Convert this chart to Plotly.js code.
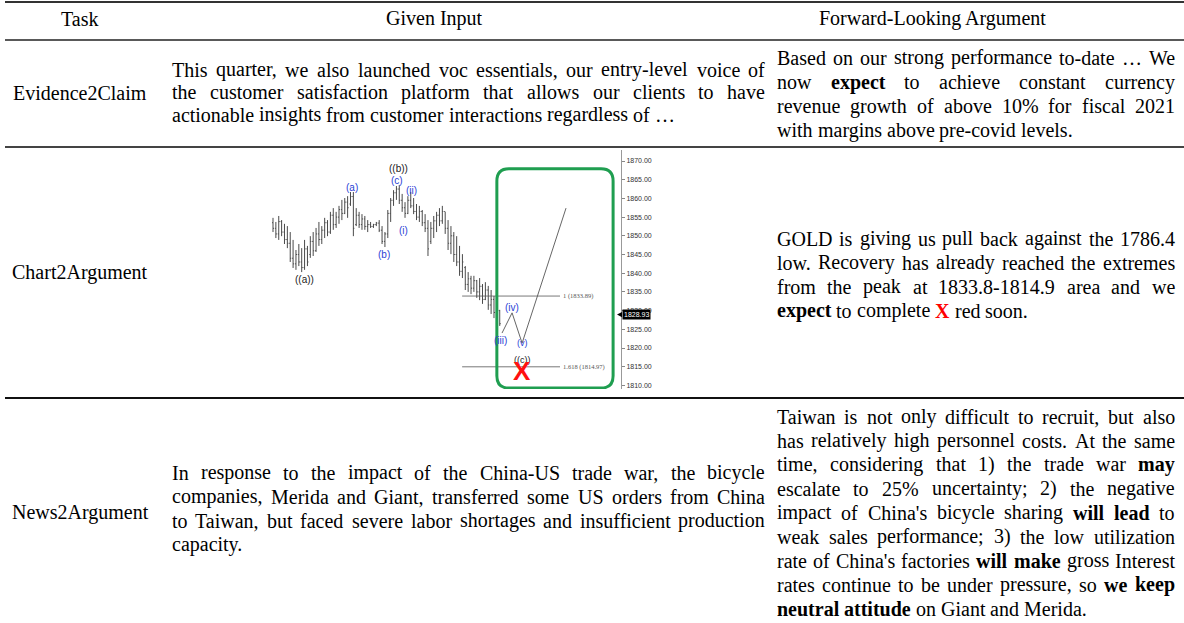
<!DOCTYPE html>
<html><head><meta charset="utf-8">
<script src="https://cdn.plot.ly/plotly-3.0.1.min.js"></script>
<style>html,body{margin:0;padding:0;background:#fff;overflow:hidden}#chart{width:1184px;height:623px}</style>
</head><body><div id="chart"></div>
<script>
// ---------- table text ----------
const headers = ["Task", "Given Input", "Forward-Looking Argument"];
const tasks = ["Evidence2Claim", "Chart2Argument", "News2Argument"];
const input1 = [
  "This quarter, we also launched voc essentials, our entry-level voice of",
  "the customer satisfaction platform that allows our clients to have",
  "actionable insights from customer interactions regardless of …"
];
const argument1 = [
  "Based on our strong performance to-date … We",
  "now **expect** to achieve constant currency",
  "revenue growth of above 10% for fiscal 2021",
  "with margins above pre-covid levels."
];
const argument2 = [
  "GOLD is giving us pull back against the 1786.4",
  "low. Recovery has already reached the extremes",
  "from the peak at 1833.8-1814.9 area and we",
  "**expect** to complete !!X!! red soon."
];
const input3 = [
  "In response to the impact of the China-US trade war, the bicycle",
  "companies, Merida and Giant, transferred some US orders from China",
  "to Taiwan, but faced severe labor shortages and insufficient production",
  "capacity."
];
const argument3 = [
  "Taiwan is not only difficult to recruit, but also",
  "has relatively high personnel costs. At the same",
  "time, considering that 1) the trade war **may**",
  "escalate to 25% uncertainty; 2) the negative",
  "impact of China's bicycle sharing **will** **lead** to",
  "weak sales performance; 3) the low utilization",
  "rate of China's factories **will** **make** gross Interest",
  "rates continue to be under pressure, so **we** **keep**",
  "**neutral** **attitude** on Giant and Merida."
];

// ---------- gold chart data (bar index, prices) ----------
const barHigh = [1854.8,1853.7,1855.3,1854.2,1853.2,1852.6,1851.0,1848.9,1846.2,1847.8,
  1846.7,1848.9,1847.3,1849.9,1851.0,1852.1,1853.7,1852.6,1854.8,1854.2,
  1856.4,1857.4,1856.4,1858.0,1859.6,1860.1,1860.6,1861.7,1861.7,1857.4,
  1856.4,1855.8,1855.3,1854.2,1853.7,1853.2,1853.7,1854.2,1852.6,1851.0,
  1856.9,1860.1,1862.2,1863.3,1863.6,1861.2,1859.0,1860.6,1861.7,1860.1,
  1858.5,1858.0,1856.9,1855.8,1854.2,1853.7,1855.3,1856.4,1857.4,1858.0,
  1856.4,1854.2,1852.6,1851.0,1849.9,1847.3,1845.1,1841.9,1840.3,1839.3,
  1839.3,1838.2,1838.7,1837.1,1837.6,1836.6,1835.5,1833.9,1832.3,1830.2];
const barLow = [1851.0,1849.4,1848.9,1849.9,1847.8,1846.7,1843.0,1841.4,1840.9,1841.9,
  1840.3,1840.9,1841.9,1844.1,1844.6,1845.7,1847.3,1847.8,1849.4,1849.9,
  1850.5,1851.6,1852.1,1853.2,1854.2,1855.8,1854.8,1858.0,1849.9,1852.6,
  1852.1,1851.6,1851.6,1851.0,1852.1,1852.1,1852.6,1851.0,1847.8,1847.0,
  1849.4,1853.7,1858.0,1859.6,1858.5,1856.4,1854.8,1855.8,1857.4,1855.8,
  1854.2,1853.7,1852.6,1851.0,1844.6,1847.8,1849.4,1851.0,1852.6,1853.2,
  1850.5,1846.2,1845.1,1843.0,1841.9,1839.3,1838.7,1835.5,1835.0,1834.4,
  1835.0,1833.4,1832.8,1831.8,1832.8,1830.2,1829.1,1828.0,1827.0,1825.9];
const barOpen = [1853.5,1852.0,1850.5,1853.8,1851.0,1849.0,1848.0,1844.0,1842.5,1845.0,
  1843.0,1841.5,1846.5,1845.0,1848.5,1846.0,1850.5,1849.0,1851.5,1853.5,
  1851.0,1855.5,1853.0,1855.0,1857.0,1856.0,1859.0,1858.5,1860.5,1853.0,
  1855.5,1853.0,1854.5,1852.5,1853.0,1852.5,1853.0,1853.4,1851.5,1848.5,
  1850.5,1856.0,1859.5,1861.5,1862.5,1859.5,1857.5,1856.0,1859.5,1858.0,
  1856.5,1855.0,1856.5,1853.5,1852.0,1848.5,1852.0,1854.0,1855.5,1854.0,
  1856.5,1852.0,1848.0,1850.0,1845.0,1843.0,1840.5,1841.5,1837.0,1838.5,
  1836.0,1838.0,1835.0,1836.5,1833.0,1835.5,1831.5,1833.0,1829.5,1830.0];
const barClose = [1852.0,1850.5,1853.8,1851.0,1849.0,1848.0,1844.0,1842.5,1845.0,1843.0,
  1841.5,1846.5,1843.0,1848.5,1846.0,1850.5,1849.0,1851.5,1853.5,1851.0,
  1855.5,1853.0,1855.0,1857.0,1856.0,1859.0,1857.5,1860.5,1852.0,1855.5,
  1853.0,1854.5,1852.5,1853.0,1852.5,1853.0,1853.4,1851.5,1848.5,1850.5,
  1856.0,1859.5,1861.5,1862.5,1859.5,1857.5,1856.0,1859.5,1858.0,1856.5,
  1855.0,1856.5,1853.5,1852.0,1846.5,1852.0,1854.0,1855.5,1854.0,1856.5,
  1852.0,1848.0,1850.0,1845.0,1843.0,1840.5,1843.0,1837.0,1838.5,1836.0,
  1838.0,1835.0,1836.5,1833.0,1835.5,1831.5,1833.0,1829.5,1830.0,1826.5];
const projX = [79.8, 83.3, 86.8, 102.1];
const projY = [1824.0, 1829.4, 1821.3, 1857.4];
const fibLevels = [1833.89, 1814.97];
const fibLabels = ["1 (1833.89)", "1.618 (1814.97)"];
const fibX = [65.9, 100.0];
const lastPrice = 1828.93;
const waveLabels = ["((a))", "(a)", "((b))", "(c)", "(ii)", "(i)", "(b)", "(iv)", "(iii)", "(v)", "((c))"];
const waveX = [10.8, 27.5, 43.6, 43.2, 48.1, 45.6, 38.7, 83.3, 79.4, 86.8, 86.8];
const waveY = [1838.2, 1863.0, 1868.0, 1864.9, 1862.0, 1851.3, 1845.1, 1830.7, 1821.9, 1821.3, 1816.9];
const waveBlack = [true, false, true, false, false, false, false, false, false, false, true];
const targetX = 86.8, targetY = 1813.9;
const boxX = [78.0, 118.5], boxY = [1809.3, 1867.9];

// ---------- layout helpers ----------
const W = 1184, H = 623;
const FS = 20;
const FONT = 'Liberation Serif';
const px = v => v / W, py = v => 1 - v / H;
const ctx = document.createElement('canvas').getContext('2d');
function measure(t, bold) { ctx.font = (bold ? 'bold ' : '') + FS + 'px "' + FONT + '"'; return ctx.measureText(t).width; }
function parseWord(tok) {
  let t = tok, bold = false, red = false;
  if (t.startsWith('!!') && t.endsWith('!!')) { t = t.slice(2, -2); bold = true; red = true; }
  else if (t.startsWith('**') && t.endsWith('**')) { t = t.slice(2, -2); bold = true; }
  return { t, bold, red };
}
const anns = [];
function para(lines, x0, x1, yc, lh) {
  const n = lines.length, y0 = yc - (n - 1) * lh / 2;
  lines.forEach((line, li) => {
    const words = line.split(' ').map(parseWord);
    const widths = words.map(w => measure(w.t, w.bold));
    const sum = widths.reduce((a, b) => a + b, 0);
    const last = li === n - 1;
    const gap = (!last && words.length > 1) ? (x1 - x0 - sum) / (words.length - 1) : measure(' ', false);
    let x = x0;
    const y = y0 + li * lh;
    words.forEach((w, k) => {
      anns.push({ xref: 'paper', yref: 'paper', x: px(x), y: py(y), xanchor: 'left', yanchor: 'middle',
        showarrow: false, borderpad: 0, borderwidth: 0,
        text: w.bold ? '<b>' + w.t + '</b>' : w.t,
        font: { family: FONT, size: FS, color: w.red ? '#ff0000' : '#000' } });
      x += widths[k] + gap;
    });
  });
}
function center(text, x, y) {
  anns.push({ xref: 'paper', yref: 'paper', x: px(x), y: py(y), xanchor: 'center', yanchor: 'middle',
    showarrow: false, borderpad: 0, borderwidth: 0, text, font: { family: FONT, size: FS, color: '#000' } });
}

center(headers[0], 79, 19);
center(headers[1], 434, 19);
center(headers[2], 932, 19);
center(tasks[0], 80, 93);
center(tasks[1], 80, 272);
center(tasks[2], 80, 512);
para(input1, 172, 765, 92, 22.5);
para(argument1, 777, 1175, 94, 24);
para(argument2, 777, 1175, 274.5, 24);
para(input3, 172, 765, 508.5, 24);
para(argument3, 777, 1175, 512.5, 24);

// chart annotations
waveLabels.forEach((t, i) => anns.push({ xref: 'x', yref: 'y', x: waveX[i], y: waveY[i], text: t, showarrow: false,
  borderpad: 0, borderwidth: 0, font: { family: 'Liberation Sans', size: (i >= 9 ? 9 : 10), color: waveBlack[i] ? '#222' : '#2b3fd6' } }));
anns.push({ xref: 'x', yref: 'y', x: targetX, y: targetY, text: '<b>X</b>', showarrow: false, borderpad: 0,
  font: { family: 'Liberation Sans', size: 26, color: '#ff1010' } });
fibLevels.forEach((v, i) => anns.push({ xref: 'x', yref: 'y', x: fibX[1] + 0.6, y: v, text: fibLabels[i], showarrow: false,
  xanchor: 'left', yanchor: 'middle', borderpad: 0, font: { family: FONT, size: 6.5, color: '#555' } }));
anns.push({ xref: 'paper', yref: 'y', x: px(622), y: lastPrice, text: lastPrice.toFixed(2), showarrow: false,
  xanchor: 'left', yanchor: 'middle', bgcolor: '#000', borderpad: 1, font: { family: 'Liberation Sans', size: 7, color: '#fff' } });

// ---------- shapes ----------
const shapes = [
  { type: 'line', xref: 'paper', yref: 'paper', x0: px(5), x1: 1, y0: py(2), y1: py(2), line: { color: '#333', width: 2 } },
  { type: 'line', xref: 'paper', yref: 'paper', x0: px(5), x1: 1, y0: py(40), y1: py(40), line: { color: '#222', width: 1.5 } },
  { type: 'line', xref: 'paper', yref: 'paper', x0: px(5), x1: 1, y0: py(147), y1: py(147), line: { color: '#444', width: 2 } },
  { type: 'line', xref: 'paper', yref: 'paper', x0: px(5), x1: 1, y0: py(398), y1: py(398), line: { color: '#111', width: 2 } }
];
// green rounded box in data coordinates
(function () {
  const rx = 4.2, ry = 3.3;
  const [xa, xb] = boxX, [ya, yb] = boxY;
  const p = `M ${xa + rx},${yb} L ${xb - rx},${yb} Q ${xb},${yb} ${xb},${yb - ry} L ${xb},${ya + ry} Q ${xb},${ya} ${xb - rx},${ya} ` +
    `L ${xa + rx},${ya} Q ${xa},${ya} ${xa},${ya + ry} L ${xa},${yb - ry} Q ${xa},${yb} ${xa + rx},${yb} Z`;
  shapes.push({ type: 'path', xref: 'x', yref: 'y', path: p, line: { color: '#1f9e50', width: 3 } });
})();
// last-price pointer
shapes.push({ type: 'path', xref: 'paper', yref: 'y', path: `M ${px(617)},${lastPrice} L ${px(622)},${lastPrice + 0.7} L ${px(622)},${lastPrice - 0.7} Z`,
  fillcolor: '#000', line: { color: '#000', width: 0 } });

// ---------- traces ----------
const idx = barHigh.map((_, i) => i);
const traces = [
  { type: 'ohlc', x: idx, open: barOpen, high: barHigh, low: barLow, close: barClose, tickwidth: 0.35,
    increasing: { line: { color: '#4a4a4a', width: 1 } }, decreasing: { line: { color: '#4a4a4a', width: 1 } }, hoverinfo: 'skip' },
  { type: 'scatter', mode: 'lines', x: projX, y: projY, line: { color: '#666', width: 1 }, hoverinfo: 'skip' }
];
fibLevels.forEach(v => traces.push({ type: 'scatter', mode: 'lines', x: fibX, y: [v, v], line: { color: '#555', width: 0.8 }, hoverinfo: 'skip' }));

const yTop = 1870 + 11 / 3.74, yBot = 1870 - (389 - 161) / 3.74;
const layout = {
  width: W, height: H, margin: { l: 0, r: 0, t: 0, b: 0 }, showlegend: false,
  paper_bgcolor: '#fff', plot_bgcolor: 'rgba(0,0,0,0)',
  xaxis: { domain: [px(268), px(621)], range: [-5 / 2.87, (621 - 273) / 2.87], visible: false, rangeslider: { visible: false }, fixedrange: true },
  yaxis: { domain: [py(389), py(150)], range: [yBot, yTop], side: 'right', anchor: 'x', showline: true, linecolor: '#999', linewidth: 1,
    ticks: 'outside', ticklen: 3, tickcolor: '#888', tickformat: '.2f', dtick: 5, tick0: 1810, showgrid: false, zeroline: false,
    tickfont: { family: 'Liberation Sans', size: 7, color: '#333' }, fixedrange: true },
  annotations: anns, shapes: shapes
};
Plotly.newPlot('chart', traces, layout, { staticPlot: true, displayModeBar: false });
</script></body></html>
